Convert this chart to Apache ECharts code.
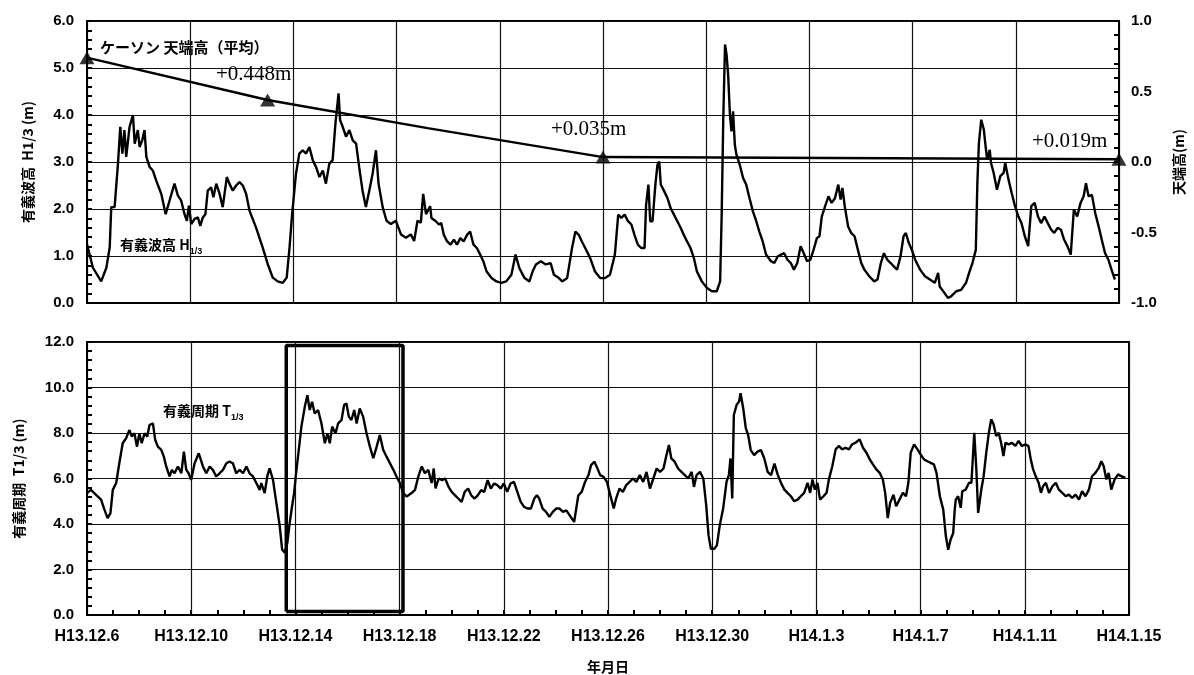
<!DOCTYPE html>
<html><head><meta charset="utf-8">
<script src="https://cdn.jsdelivr.net/npm/echarts@6/dist/echarts.min.js"></script>
<style>html,body{margin:0;padding:0;background:#fff}#c{width:1194px;height:675px}</style>
</head><body><div id="c"></div>
<script>
// x axis: days since H13.12.6
const xTickLabels = ['H13.12.6','H13.12.10','H13.12.14','H13.12.18','H13.12.22','H13.12.26','H13.12.30','H14.1.3','H14.1.7','H14.1.11','H14.1.15'];

// significant wave height H1/3 (m): [day, value]
const waveHeight = [
[0,1.25],[0.23,0.75],[0.55,0.46],[0.75,0.75],[0.88,1.18],[0.94,2.04],[1.07,2.04],[1.2,2.96],[1.29,3.75],[1.37,3.18],[1.45,3.68],[1.52,3.11],[1.65,3.75],[1.78,4.0],[1.85,3.39],[1.97,3.68],[2.04,3.32],[2.14,3.46],[2.23,3.68],[2.3,3.11],[2.43,2.89],[2.55,2.82],[2.68,2.61],[2.88,2.32],[3.05,1.89],[3.2,2.18],[3.39,2.54],[3.52,2.29],[3.65,2.18],[3.78,1.89],[3.87,1.75],[3.95,2.07],[4.04,1.68],[4.17,1.79],[4.3,1.82],[4.39,1.64],[4.49,1.82],[4.59,1.89],[4.68,2.39],[4.81,2.46],[4.9,2.25],[5.01,2.54],[5.14,2.32],[5.26,2.04],[5.42,2.68],[5.52,2.54],[5.65,2.39],[5.78,2.5],[5.91,2.57],[6.04,2.5],[6.17,2.32],[6.3,1.96],[6.55,1.61],[6.81,1.18],[7.01,0.82],[7.2,0.54],[7.39,0.46],[7.59,0.43],[7.74,0.54],[7.85,1.18],[7.95,1.89],[8.1,2.75],[8.23,3.18],[8.36,3.25],[8.49,3.18],[8.62,3.32],[8.75,3.04],[8.88,2.89],[9.01,2.68],[9.14,2.82],[9.26,2.54],[9.39,2.96],[9.52,3.04],[9.63,3.82],[9.75,4.46],[9.81,3.89],[9.91,3.75],[10.04,3.54],[10.17,3.68],[10.3,3.46],[10.43,3.39],[10.55,2.89],[10.68,2.39],[10.81,2.04],[10.94,2.39],[11.07,2.75],[11.2,3.25],[11.3,2.54],[11.46,2.04],[11.61,1.75],[11.78,1.68],[11.97,1.75],[12.17,1.46],[12.36,1.39],[12.55,1.46],[12.68,1.32],[12.81,1.75],[12.94,1.71],[13.03,2.32],[13.14,1.89],
[13.2,1.95],[13.3,2.06],[13.35,1.81],[13.52,1.74],[13.64,1.67],[13.73,1.7],[13.83,1.45],[13.96,1.31],[14.09,1.24],[14.22,1.35],[14.34,1.24],[14.47,1.38],[14.6,1.31],[14.73,1.45],[14.85,1.52],[14.98,1.24],[15.11,1.17],[15.24,1.03],[15.36,0.89],[15.49,0.67],[15.68,0.53],[15.87,0.46],[16.06,0.43],[16.25,0.46],[16.45,0.6],[16.61,1.03],[16.76,0.74],[16.96,0.53],[17.15,0.46],[17.27,0.67],[17.4,0.82],[17.59,0.89],[17.78,0.82],[17.97,0.85],[18.1,0.6],[18.29,0.53],[18.42,0.46],[18.61,0.53],[18.8,1.17],[18.93,1.52],[19.06,1.45],[19.18,1.31],[19.31,1.17],[19.5,0.96],[19.69,0.67],[19.89,0.53],[20.08,0.53],[20.27,0.6],[20.46,1.03],[20.59,1.88],[20.71,1.81],[20.84,1.88],[20.97,1.74],[21.1,1.67],[21.22,1.45],[21.35,1.24],[21.48,1.17],[21.61,1.17],[21.67,2.09],[21.76,2.52],[21.83,1.74],[21.92,1.74],[22.03,2.52],[22.11,2.94],[22.18,3.01],[22.24,2.52],[22.37,2.38],[22.5,2.23],[22.62,2.02],[22.75,1.88],[22.88,1.74],[23.01,1.6],[23.13,1.45],[23.26,1.31],[23.39,1.17],[23.52,0.96],[23.64,0.67],[23.83,0.46],[24.03,0.32],[24.22,0.25],[24.41,0.25],[24.54,0.46],[24.6,1.88],[24.66,3.87],[24.73,5.5],[24.79,5.28],[24.85,4.86],[24.92,4.0],[24.98,3.65],[25.04,4.08],[25.11,3.37],[25.17,3.16],[25.3,2.94],[25.43,2.66],[25.55,2.52],[25.68,2.23],[25.81,1.95],[25.94,1.74],[26.06,1.52],[26.19,1.31],[26.32,1.03],[26.51,0.89],
[26.64,0.85],[26.77,0.99],[26.9,1.03],[27.02,1.06],[27.15,0.92],[27.28,0.85],[27.4,0.71],[27.53,0.85],[27.66,1.21],[27.78,1.06],[27.91,0.89],[28.04,0.92],[28.16,1.13],[28.29,1.38],[28.39,1.42],[28.48,1.84],[28.61,2.06],[28.74,2.27],[28.86,2.13],[28.99,2.23],[29.12,2.52],[29.21,2.2],[29.28,2.45],[29.37,2.06],[29.5,1.63],[29.62,1.49],[29.75,1.42],[29.88,1.13],[30.01,0.85],[30.13,0.71],[30.32,0.57],[30.51,0.46],[30.64,0.5],[30.77,0.85],[30.89,1.06],[31.02,0.92],[31.15,0.85],[31.27,0.78],[31.4,0.71],[31.53,0.99],[31.65,1.42],[31.74,1.49],[31.85,1.28],[31.97,1.13],[32.1,0.92],[32.29,0.71],[32.48,0.57],[32.67,0.5],[32.86,0.43],[32.99,0.64],[33.05,0.35],[33.24,0.21],[33.37,0.11],[33.49,0.14],[33.69,0.25],[33.88,0.28],[34.07,0.43],[34.19,0.64],[34.32,0.85],[34.45,1.13],[34.51,2.55],[34.57,3.4],[34.66,3.9],[34.76,3.69],[34.83,3.33],[34.89,3.05],[34.99,3.26],[35.04,2.98],[35.14,2.77],[35.27,2.41],[35.4,2.7],[35.53,2.77],[35.59,2.98],[35.72,2.62],[35.84,2.34],[35.97,2.06],[36.1,1.84],[36.22,1.7],[36.35,1.42],[36.48,1.21],[36.6,2.06],[36.73,2.13],[36.86,1.84],[36.98,1.7],[37.11,1.84],[37.24,1.7],[37.37,1.56],[37.49,1.49],[37.62,1.6],[37.75,1.56],[37.87,1.35],[38.0,1.21],[38.13,1.03],[38.25,1.99],[38.38,1.84],[38.51,2.13],[38.63,2.27],[38.72,2.55],[38.82,2.27],[38.95,2.3],[39.08,1.91],[39.21,1.63],[39.33,1.35],[39.46,1.06],[39.59,0.92],[39.71,0.71],[39.84,0.5]
];

// significant wave period T1/3: [day, value]
const wavePeriod = [
[0,5.36],[0.15,5.5],[0.28,5.36],[0.41,5.21],[0.54,5.07],[0.67,4.63],[0.79,4.26],[0.9,4.48],[0.99,5.5],[1.12,5.8],[1.24,6.67],[1.37,7.55],[1.5,7.77],[1.63,8.13],[1.72,7.84],[1.82,7.99],[1.92,7.4],[2.01,7.99],[2.1,7.55],[2.21,7.99],[2.31,7.84],[2.4,8.35],[2.53,8.42],[2.62,7.69],[2.72,7.4],[2.85,7.26],[2.95,6.96],[3.04,6.53],[3.17,6.09],[3.26,6.38],[3.36,6.23],[3.49,6.53],[3.62,6.23],[3.72,7.18],[3.81,6.38],[3.9,6.23],[4.0,5.94],[4.13,6.67],[4.29,7.11],[4.45,6.53],[4.58,6.23],[4.71,6.53],[4.83,6.38],[4.96,6.09],[5.09,6.23],[5.22,6.38],[5.35,6.67],[5.47,6.74],[5.6,6.67],[5.73,6.23],[5.86,6.38],[5.99,6.23],[6.12,6.53],[6.24,6.23],[6.37,6.09],[6.5,5.8],[6.63,5.5],[6.69,5.8],[6.82,5.36],[6.92,6.09],[7.01,6.45],[7.14,5.94],[7.27,4.92],[7.4,3.9],[7.49,2.88],[7.59,2.73],[7.69,3.17],[7.78,4.04],[7.87,4.77],[7.95,5.36],[8.04,6.38],[8.13,7.26],[8.23,8.28],[8.36,9.15],[8.46,9.66],[8.55,9.01],[8.64,9.37],[8.74,8.86],[8.87,9.01],[9.0,8.42],[9.13,7.55],[9.23,7.99],[9.32,7.55],[9.41,8.28],[9.54,7.99],[9.64,8.42],[9.77,8.57],[9.87,9.23],[9.96,9.3],[10.05,8.72],[10.15,8.57],[10.26,9.01],[10.35,8.42],[10.47,9.08],[10.6,8.72],[10.73,7.99],[10.86,7.4],[10.99,6.89],[11.12,7.4],[11.24,7.91],[11.37,7.26],[11.5,6.96],[11.63,6.67],[11.76,6.38],[11.88,6.09],[12.01,5.8],[12.14,5.36],[12.27,5.21],[12.46,5.36],[12.59,5.5],[12.72,6.09],[12.85,6.53],[12.97,6.23],[13.1,6.38],[13.23,5.8],
[13.31,6.44],[13.38,5.56],[13.5,6.0],[13.63,5.93],[13.75,6.0],[13.88,5.63],[14.0,5.41],[14.13,5.26],[14.25,5.12],[14.38,4.97],[14.5,5.41],[14.63,5.56],[14.75,5.26],[14.88,5.12],[15.0,5.26],[15.13,5.49],[15.25,5.41],[15.38,5.93],[15.5,5.56],[15.63,5.78],[15.75,5.71],[15.88,5.56],[16.0,5.78],[16.13,5.41],[16.26,5.78],[16.39,5.85],[16.52,5.41],[16.65,4.97],[16.78,4.75],[16.91,4.68],[17.04,4.68],[17.17,5.12],[17.27,5.26],[17.36,5.12],[17.49,4.68],[17.62,4.53],[17.75,4.31],[17.88,4.53],[18.01,4.68],[18.14,4.68],[18.27,4.53],[18.4,4.6],[18.53,4.38],[18.7,4.09],[18.86,5.26],[18.99,5.41],[19.12,5.85],[19.25,6.15],[19.35,6.59],[19.48,6.74],[19.57,6.51],[19.7,6.15],[19.83,6.07],[19.96,5.85],[20.09,5.26],[20.22,4.68],[20.31,5.12],[20.44,5.56],[20.57,5.41],[20.7,5.71],[20.83,5.85],[20.96,6.0],[21.09,5.85],[21.22,6.15],[21.35,5.85],[21.48,6.29],[21.61,5.56],[21.74,6.0],[21.87,6.44],[22.0,6.29],[22.13,6.44],[22.23,6.96],[22.34,7.47],[22.43,6.88],[22.56,6.74],[22.69,6.44],[22.82,6.29],[22.95,6.15],[23.08,6.0],[23.21,6.29],[23.3,5.63],[23.4,6.15],[23.53,6.29],[23.66,6.0],[23.77,4.82],[23.86,3.5],[23.95,2.91],[24.08,2.91],[24.18,3.06],[24.29,3.94],[24.42,4.68],[24.55,5.85],[24.64,6.15],[24.7,6.88],[24.77,5.12],[24.83,8.79],[24.94,9.24],[25.03,9.38],[25.09,9.75],[25.19,9.09],[25.29,8.21],[25.38,7.91],[25.48,7.25],[25.61,7.03],[25.74,7.18],[25.87,7.25],[26.0,6.88],[26.13,6.29],[26.26,6.15],[26.39,6.66],
[26.51,6.18],[26.64,5.81],[26.77,5.51],[26.89,5.37],[27.02,5.22],[27.15,5.0],[27.28,5.07],[27.4,5.22],[27.53,5.37],[27.66,5.81],[27.76,5.37],[27.85,5.96],[27.94,5.51],[28.04,5.81],[28.14,5.07],[28.27,5.22],[28.39,5.37],[28.48,5.96],[28.61,6.54],[28.74,7.28],[28.86,7.43],[28.99,7.28],[29.12,7.35],[29.25,7.28],[29.37,7.5],[29.5,7.57],[29.66,7.72],[29.79,7.35],[29.92,7.13],[30.05,6.84],[30.17,6.62],[30.3,6.4],[30.43,6.25],[30.55,5.96],[30.64,5.37],[30.74,4.26],[30.83,4.93],[30.96,5.29],[31.06,4.78],[31.19,5.07],[31.32,5.37],[31.44,5.22],[31.53,5.81],[31.62,7.13],[31.75,7.5],[31.88,7.28],[32.0,7.06],[32.13,6.84],[32.26,6.76],[32.38,6.69],[32.51,6.62],[32.61,6.25],[32.74,5.22],[32.87,4.63],[32.97,3.46],[33.06,2.87],[33.15,3.31],[33.25,3.6],[33.31,4.63],[33.35,5.07],[33.44,5.22],[33.54,4.71],[33.6,5.44],[33.73,5.51],[33.86,5.81],[33.95,5.81],[34.01,6.99],[34.06,8.01],[34.14,6.4],[34.21,4.49],[34.33,5.51],[34.42,6.1],[34.52,7.13],[34.62,8.01],[34.71,8.6],[34.8,8.38],[34.9,7.87],[35.0,8.01],[35.09,7.57],[35.18,6.99],[35.26,7.57],[35.38,7.5],[35.51,7.57],[35.64,7.43],[35.76,7.65],[35.89,7.43],[36.02,7.5],[36.14,7.43],[36.23,6.84],[36.32,6.4],[36.42,6.1],[36.53,5.81],[36.62,5.37],[36.7,5.66],[36.81,5.81],[36.93,5.37],[37.06,5.66],[37.19,5.81],[37.31,5.51],[37.44,5.37],[37.57,5.22],[37.69,5.29],[37.82,5.15],[37.95,5.29],[38.08,5.07],[38.2,5.44],[38.33,5.22],[38.46,5.51],[38.58,6.1],[38.71,6.25],[38.84,6.47],[38.94,6.76],[39.03,6.54],[39.13,5.96],[39.22,6.25],[39.32,5.51],[39.45,5.96],[39.58,6.18],[39.7,6.1],[39.86,6.03]
];

// caisson crest elevation (right axis, m)
const crestLine = [[0,0.74],[7,0.44],[13.2,0.24],[20,0.035],[40,0.019]];
const crestMeasured = [[0,0.74],[7,0.44],[20,0.035],[40,0.019]];
const crestLabels = ['+0.448m','+0.035m','+0.019m'];

// highlighted period in lower panel
const highlightDays = [7.65, 12.13];
const highlightPeriod = [0.15, 11.85];

const boxData = [
  [highlightDays[0], highlightPeriod[0]], [highlightDays[0], highlightPeriod[1]],
  [highlightDays[1], highlightPeriod[1]], [highlightDays[1], highlightPeriod[0]],
  [highlightDays[0], highlightPeriod[0]]
];

const FONT = "'Liberation Sans', Arial, 'Noto Sans CJK JP', sans-serif";
const JP = "'Noto Sans CJK JP', 'Liberation Sans', sans-serif";
const axisTxt = {color:'#000', fontFamily: FONT, fontSize: 15, fontWeight: 'bold'};
const gridLine = {show:true, lineStyle:{color:'#111', width:1.2}};
const axisLineS = {show:true, lineStyle:{color:'#000', width:2}};
const tickS = {show:true, inside:true, length:5, lineStyle:{color:'#000', width:2}};
const minorS = (n)=>({show:true, splitNumber:n, length:5, lineStyle:{color:'#000', width:2}});
const nameS = {color:'#000', fontFamily:JP, fontSize:14, fontWeight:'bold'};
const serifFont = "21px 'Liberation Serif', 'Times New Roman', serif";

const chart = echarts.init(document.getElementById('c'), null, {renderer:'canvas'});
chart.setOption({
  animation: false,
  backgroundColor: '#fff',
  grid: [
    {left:87, top:21, width:1038, height:282, show:true, borderColor:'#000', borderWidth:2, backgroundColor:'transparent'},
    {left:87, top:342, width:1042, height:273, show:true, borderColor:'#000', borderWidth:2, backgroundColor:'transparent'}
  ],
  xAxis: [
    {type:'value', gridIndex:0, min:0, max:40, interval:4, axisLine:axisLineS,
     axisTick:{show:false}, axisLabel:{show:false}, splitLine:gridLine},
    {type:'value', gridIndex:1, min:0, max:40, interval:4, axisLine:axisLineS,
     axisTick:tickS, minorTick:minorS(4),
     axisLabel:{margin:14, color:'#000', fontFamily:FONT, fontSize:16, fontWeight:'bold',
       formatter:(v)=>xTickLabels[Math.round(v/4)]},
     splitLine:gridLine,
     name:'年月日', nameLocation:'middle', nameGap:45, nameTextStyle:nameS}
  ],
  yAxis: [
    {type:'value', gridIndex:0, min:0, max:6, interval:1, axisLine:axisLineS,
     axisTick:tickS, minorTick:minorS(5),
     axisLabel:Object.assign({margin:13, formatter:(v)=>v.toFixed(1)}, axisTxt),
     splitLine:gridLine,
     name:'有義波高  H1/3 (m)', nameLocation:'middle', nameGap:52, nameRotate:90, nameTextStyle:nameS},
    {type:'value', gridIndex:0, position:'right', min:-1, max:1, interval:0.5, axisLine:axisLineS,
     axisTick:tickS, minorTick:minorS(5),
     axisLabel:Object.assign({margin:12, formatter:(v)=>v.toFixed(1)}, axisTxt),
     splitLine:{show:false},
     name:'天端高(m)', nameLocation:'middle', nameGap:53, nameRotate:90, nameTextStyle:nameS},
    {type:'value', gridIndex:1, min:0, max:12, interval:2, axisLine:axisLineS,
     axisTick:tickS, minorTick:minorS(5),
     axisLabel:Object.assign({margin:13, formatter:(v)=>v.toFixed(1)}, axisTxt),
     splitLine:gridLine,
     name:'有義周期  T1/3 (m)', nameLocation:'middle', nameGap:61, nameRotate:90, nameTextStyle:nameS}
  ],
  series: [
    {type:'line', xAxisIndex:0, yAxisIndex:0, data:waveHeight, symbol:'none',
     lineStyle:{color:'#000', width:2.4}, z:3},
    {type:'line', xAxisIndex:0, yAxisIndex:1, data:crestLine, symbol:'none',
     lineStyle:{color:'#000', width:2.4}, z:4},
    {type:'scatter', xAxisIndex:0, yAxisIndex:1, data:crestMeasured, symbol:'triangle', symbolSize:[15,13],
     itemStyle:{color:'#000'}, clip:false, z:5},
    {type:'line', xAxisIndex:1, yAxisIndex:2, data:wavePeriod, symbol:'none',
     lineStyle:{color:'#000', width:2.4}, z:3},
    {type:'line', xAxisIndex:1, yAxisIndex:2, data:boxData, symbol:'none',
     lineStyle:{color:'#000', width:3.5}, z:4}
  ],
  graphic: [
    {type:'text', left:100, top:40, style:{text:'ケーソン 天端高（平均）', font:"bold 15px 'Noto Sans CJK JP'", fill:'#000'}},
    {type:'text', left:216, top:64, style:{text:crestLabels[0], font:serifFont, fill:'#000'}},
    {type:'text', left:551, top:119, style:{text:crestLabels[1], font:serifFont, fill:'#000'}},
    {type:'text', left:1032, top:131, style:{text:crestLabels[2], font:serifFont, fill:'#000'}},
    {type:'text', left:120, top:238, style:{text:'{a|有義波高 H}{s|1/3}', rich:{
      a:{fontFamily:JP, fontSize:14, fontWeight:'bold', fill:'#000', lineHeight:22, verticalAlign:'middle'},
      s:{fontFamily:FONT, fontSize:9, fontWeight:'bold', fill:'#000', lineHeight:9, verticalAlign:'bottom'}}}},
    {type:'text', left:163, top:404, style:{text:'{a|有義周期 T}{s|1/3}', rich:{
      a:{fontFamily:JP, fontSize:14, fontWeight:'bold', fill:'#000', lineHeight:22, verticalAlign:'middle'},
      s:{fontFamily:FONT, fontSize:9, fontWeight:'bold', fill:'#000', lineHeight:9, verticalAlign:'bottom'}}}}
  ]
});
</script></body></html>
